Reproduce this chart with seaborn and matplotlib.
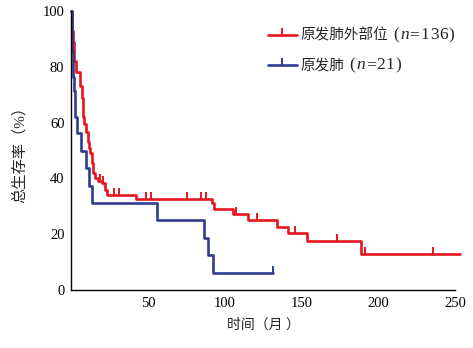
import numpy as np
import pandas as pd
import matplotlib
matplotlib.use("Agg")
import matplotlib.pyplot as plt
from matplotlib.lines import Line2D
import seaborn as sns

# Kaplan-Meier step values (months, overall survival %)
extra_times = [0, 0.3, 0.6, 1.0, 1.5, 2.0, 3.3, 5.5, 6.6, 7.7, 8.5, 9.2, 10.5, 11.5,
               12.1, 13.1, 14.2, 15.4, 17.5, 19.7, 21.9, 23.0, 41.8, 91.4, 93.0,
               105.2, 115.0, 134.3, 141.3, 153.3, 188.4]
extra_surv = [100, 97, 93, 89, 85, 82, 78, 73, 69, 62, 59.5, 56.5, 53, 51,
              49, 45.5, 42, 40.3, 39.2, 38.2, 36, 34.2, 32.6, 31.2, 29,
              27.3, 24.9, 22.5, 20.4, 17.7, 12.9]
extra_end = 253
extra_censor = [18.5, 20.5, 27.5, 31.0, 48.5, 51.6, 75.5, 84.5, 87.7, 107.4,
                121, 145.7, 173, 191.6, 235.4]

lung_times = [0, 0.2, 0.4, 0.6, 0.9, 1.3, 1.8, 2.2, 2.6, 3.9, 6.2, 9.8, 11.4,
              13.1, 55.5, 86.6, 89.2, 92.3]
lung_surv = [100, 95.2, 90.5, 85.7, 81.0, 76.2, 71.4, 66.7, 61.9, 56.4, 49.7,
             43.8, 37.2, 31.2, 24.9, 18.7, 12.5, 6.2]
lung_end = 131.5
lung_censor = [131.5]

group_names = ["原发肺外部位", "原发肺"]
group_sizes = [136, 21]
colors = ["#E8141E", "#2E3C92"]
x_ticks = [50, 100, 150, 200, 250]
y_ticks = [0, 20, 40, 60, 80, 100]

sns.set_style("white")
plt.rcParams["font.family"] = ["Liberation Serif", "Noto Sans CJK SC"]

def step_frame(times, surv, end, name):
    t = list(times) + [end]
    s = list(surv) + [surv[-1]]
    return pd.DataFrame({"time": t, "surv": s, "group": name})

def value_at(times, surv, t):
    idx = np.searchsorted(times, t, side="right") - 1
    return surv[idx]

df = pd.concat([
    step_frame(extra_times, extra_surv, extra_end, group_names[0]),
    step_frame(lung_times, lung_surv, lung_end, group_names[1]),
], ignore_index=True)

fig = plt.figure(figsize=(4.73, 3.48), dpi=100)
ax = fig.add_axes([0.151, 0.167, 0.811, 0.801])

lw = 1.9
sns.lineplot(data=df, x="time", y="surv", hue="group", palette=colors,
             estimator=None, sort=False, drawstyle="steps-post",
             linewidth=lw, legend=False, ax=ax)
for ln in ax.lines:
    ln.set_clip_on(False)

for times, surv, cens, c in [(extra_times, extra_surv, extra_censor, colors[0]),
                             (lung_times, lung_surv, lung_censor, colors[1])]:
    cy = [value_at(times, surv, t) for t in cens]
    ax.plot(cens, cy, linestyle="none", marker=2, markersize=5,
            markeredgewidth=1.4, color=c, clip_on=False)

ax.set_xlim(0, 250)
ax.set_ylim(0, 100)
ax.set_xticks(x_ticks)
ax.set_yticks(y_ticks)
ax.tick_params(direction="in", length=4, width=1, labelsize=10.5,
               colors="black", pad=5)
for side in ["top", "right"]:
    ax.spines[side].set_visible(False)
for side in ["left", "bottom"]:
    ax.spines[side].set_color("black")
    ax.spines[side].set_linewidth(1.0)

ax.set_xlabel("时间（月 ）", fontsize=10, labelpad=6)
ax.set_ylabel("总生存率（%）", fontsize=11, labelpad=11)

# Legend: short line with censor tick, label "name (n=N)" with italic n
row_y = [0.914, 0.806]
for c, name, n, y in zip(colors, group_names, group_sizes, row_y):
    ax.add_line(Line2D([0.512, 0.588], [y, y], transform=ax.transAxes,
                       color=c, linewidth=lw, clip_on=False))
    ax.add_line(Line2D([0.55], [y], transform=ax.transAxes, color=c,
                       marker=2, markersize=5, markeredgewidth=1.4,
                       linestyle="none", clip_on=False))
    prev = ax.text(0.598, y, name, transform=ax.transAxes,
                   fontsize=10.5, va="center", ha="left")
    pieces = ["("] + ["n"] + list("=%d)" % n)
    gap = 3.5
    for ch in pieces:
        prev = ax.annotate(ch, xy=(1, 0.5), xycoords=prev,
                           xytext=(gap, 0), textcoords="offset points",
                           va="center", ha="left", fontsize=12.5,
                           style="italic" if ch == "n" else "normal")
        gap = 0.6

fig.savefig("out.png", dpi=100)
